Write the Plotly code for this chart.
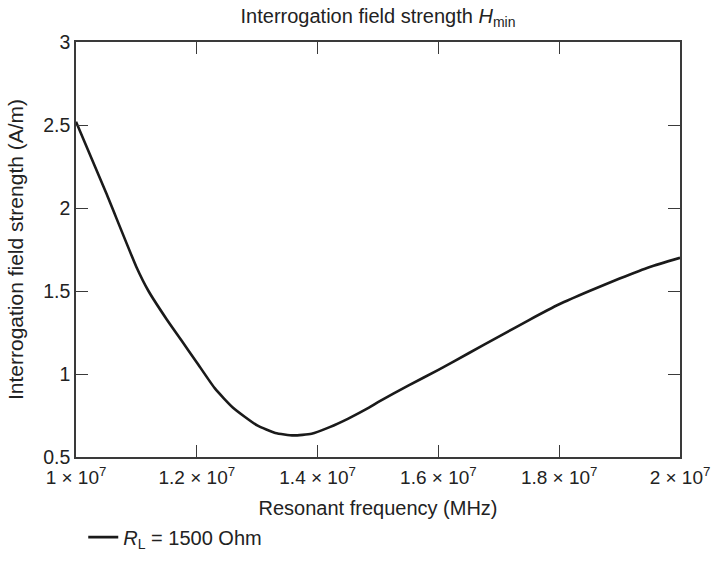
import plotly.graph_objects as go

freq_hz = [1.00e7, 1.05e7, 1.10e7, 1.12e7, 1.15e7, 1.175e7, 1.20e7, 1.23e7, 1.26e7,
           1.30e7, 1.33e7, 1.36e7, 1.39e7, 1.42e7, 1.45e7, 1.485e7, 1.50e7, 1.55e7,
           1.60e7, 1.65e7, 1.70e7, 1.75e7, 1.80e7, 1.85e7, 1.90e7, 1.95e7, 2.00e7]
h_min = [2.52, 2.09, 1.645, 1.50, 1.33, 1.20, 1.07, 0.913, 0.797,
         0.69, 0.645, 0.63, 0.64, 0.68, 0.73, 0.797, 0.83, 0.93,
         1.025, 1.125, 1.225, 1.325, 1.42, 1.50, 1.575, 1.645, 1.70]

x_tickvals = [1.0e7, 1.2e7, 1.4e7, 1.6e7, 1.8e7, 2.0e7]
x_ticktext = ["1 × 10<sup>7</sup>", "1.2 × 10<sup>7</sup>", "1.4 × 10<sup>7</sup>",
              "1.6 × 10<sup>7</sup>", "1.8 × 10<sup>7</sup>", "2 × 10<sup>7</sup>"]
y_tickvals = [0.5, 1, 1.5, 2, 2.5, 3]
y_ticktext = ["0.5", "1", "1.5", "2", "2.5", "3"]

series_name = "<i>R</i><sub>L</sub> = 1500 Ohm"

fig = go.Figure()
fig.add_trace(go.Scatter(x=freq_hz, y=h_min, mode="lines", name=series_name,
                         line=dict(color="#1a1a1a", width=2.6, shape="spline", smoothing=0.5)))

axis_common = dict(showgrid=False, zeroline=False, showline=True, linecolor="#3a3a3a",
                   linewidth=1.5, mirror="ticks", ticks="inside", ticklen=12,
                   tickcolor="#3a3a3a", tickwidth=1.2)

fig.update_layout(
    width=722, height=568,
    margin=dict(l=76, r=33, t=42, b=97),
    paper_bgcolor="white", plot_bgcolor="white",
    font=dict(family="Liberation Sans, Arial, sans-serif", color="#222"),
    title=dict(text="Interrogation field strength <i>H</i><sub>min</sub>",
               x=0.5, xref="paper", xanchor="center", y=0.972, yanchor="middle",
               font=dict(size=20, color="#222")),
    showlegend=True,
    legend=dict(orientation="h", x=0.012, xanchor="left", y=-0.193, yanchor="middle",
                font=dict(size=20, color="#222"), bgcolor="rgba(0,0,0,0)"),
)
fig.update_xaxes(range=[1e7, 2e7], tickvals=x_tickvals, ticktext=x_ticktext,
                 tickfont=dict(size=19, color="#222"), ticklabelstandoff=2,
                 title=dict(text="Resonant frequency (MHz)", font=dict(size=20), standoff=14),
                 **axis_common)
fig.update_yaxes(range=[0.5, 3], tickvals=y_tickvals, ticktext=y_ticktext,
                 tickfont=dict(size=19.5, color="#222"),
                 title=dict(text="Interrogation field strength (A/m)", font=dict(size=21), standoff=14),
                 **axis_common)

fig.write_html("out.html", config={"displayModeBar": False},
               post_script="document.body.style.margin='0';document.body.style.padding='0';")
